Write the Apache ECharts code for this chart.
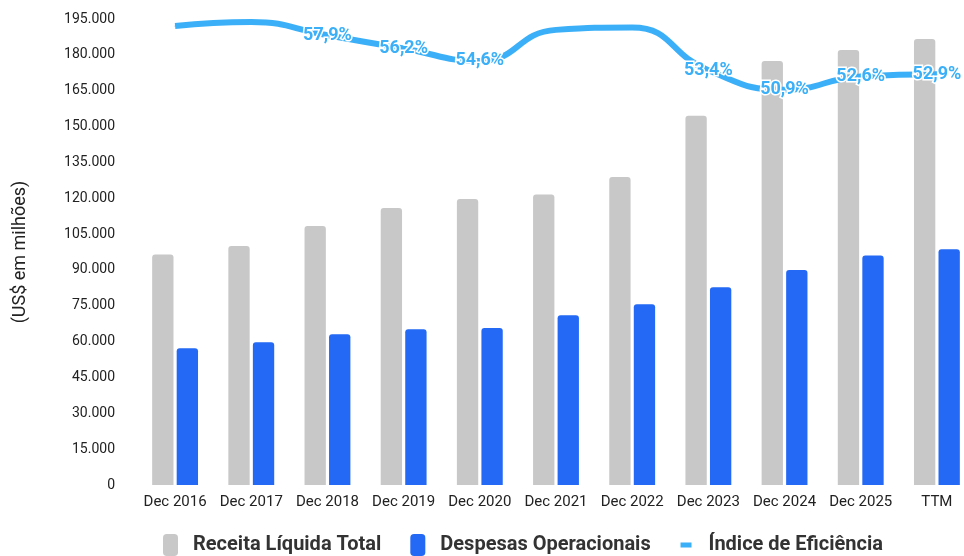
<!DOCTYPE html>
<html>
<head>
<meta charset="utf-8">
<script src="https://cdn.jsdelivr.net/npm/echarts@6/dist/echarts.min.js"></script>
<style>
  html, body { margin: 0; padding: 0; background: #fff; overflow: hidden; }
  #chart { width: 975px; height: 556px; }
</style>
</head>
<body>
<div id="chart"></div>
<script>
const categories = ['Dec 2016', 'Dec 2017', 'Dec 2018', 'Dec 2019', 'Dec 2020', 'Dec 2021', 'Dec 2022', 'Dec 2023', 'Dec 2024', 'Dec 2025', 'TTM'];
const receita = [96500, 100000, 108400, 115900, 119700, 121600, 128900, 154500, 177400, 182000, 186600];
const despesas = [57200, 59700, 63100, 65200, 65700, 71000, 75600, 82700, 90000, 96000, 98600];
const eficiencia = [59.1, 59.6, 57.9, 56.2, 54.6, 58.6, 58.9, 53.4, 50.9, 52.6, 52.9];
const showLabel = [false, false, true, true, true, false, false, true, true, true, true];

const fmtThousands = v => String(v).replace(/\B(?=(\d{3})+(?!\d))/g, '.');

// short thick dash centred in a tall box, so it lines up with the square icons
const lineIcon = 'path://M0,0h0.01v0.01h-0.01z M1,10h13v6h-13z M14.99,25.99h0.01v0.01h-0.01z';

// the original plot runs a little past the right edge of the 964px frame
const chart = echarts.init(document.getElementById('chart'));

chart.setOption({
    animation: false,
    textStyle: { fontFamily: 'Roboto' },
    grid: { left: 137, right: 0, top: 19, bottom: 71 },
    legend: {
        top: 529,
        left: 158,
        itemGap: 29,
        itemWidth: 15,
        itemHeight: 22,
        textStyle: { fontSize: 20, fontWeight: 'bold', color: '#333', padding: [0, 0, 0, 10] },
        data: [
            { name: 'Receita Líquida Total', icon: 'roundRect', itemStyle: { color: '#c8c8c8' } },
            { name: 'Despesas Operacionais', icon: 'roundRect', itemStyle: { color: '#2469f5' } },
            { name: 'Índice de Eficiência', icon: lineIcon, itemStyle: { color: '#3bb0f8' } }
        ]
    },
    xAxis: {
        type: 'category',
        data: categories,
        axisLine: { show: false },
        axisTick: { show: false },
        axisLabel: { color: '#222', fontSize: 15, margin: 10, interval: 0 }
    },
    yAxis: [
        {
            type: 'value',
            min: 0,
            max: 195000,
            interval: 15000,
            name: '(US$ em milhões)',
            nameLocation: 'middle',
            nameGap: 108,
            nameTextStyle: { fontSize: 18, color: '#222' },
            splitLine: { show: false },
            axisLabel: { color: '#222', fontSize: 14, margin: 22, formatter: fmtThousands }
        },
        {
            type: 'value',
            min: 0,
            max: 60,
            show: false
        }
    ],
    series: [
        {
            name: 'Receita Líquida Total',
            type: 'bar',
            data: receita,
            barWidth: '28%',
            barGap: '15%',
            itemStyle: { color: '#c8c8c8', borderRadius: [3, 3, 0, 0] }
        },
        {
            name: 'Despesas Operacionais',
            type: 'bar',
            data: despesas,
            barWidth: '28%',
            itemStyle: { color: '#2469f5', borderRadius: [3, 3, 0, 0] }
        },
        {
            name: 'Índice de Eficiência',
            type: 'line',
            yAxisIndex: 1,
            smooth: 0.5,
            symbol: 'circle',
            symbolSize: 1,
            showSymbol: true,
            data: eficiencia.map((v, i) => ({ value: v, label: { show: showLabel[i] } })),
            lineStyle: { color: '#3bb0f8', width: 6 },
            itemStyle: { color: '#3bb0f8' },
            label: {
                show: true,
                position: 'inside',
                color: '#3bb0f8',
                fontSize: 18,
                fontWeight: 'bold',
                textBorderColor: '#fff',
                textBorderWidth: 3,
                formatter: p => p.value.toFixed(1).replace('.', ',') + '%'
            },
            z: 5
        }
    ]
});
</script>
</body>
</html>
